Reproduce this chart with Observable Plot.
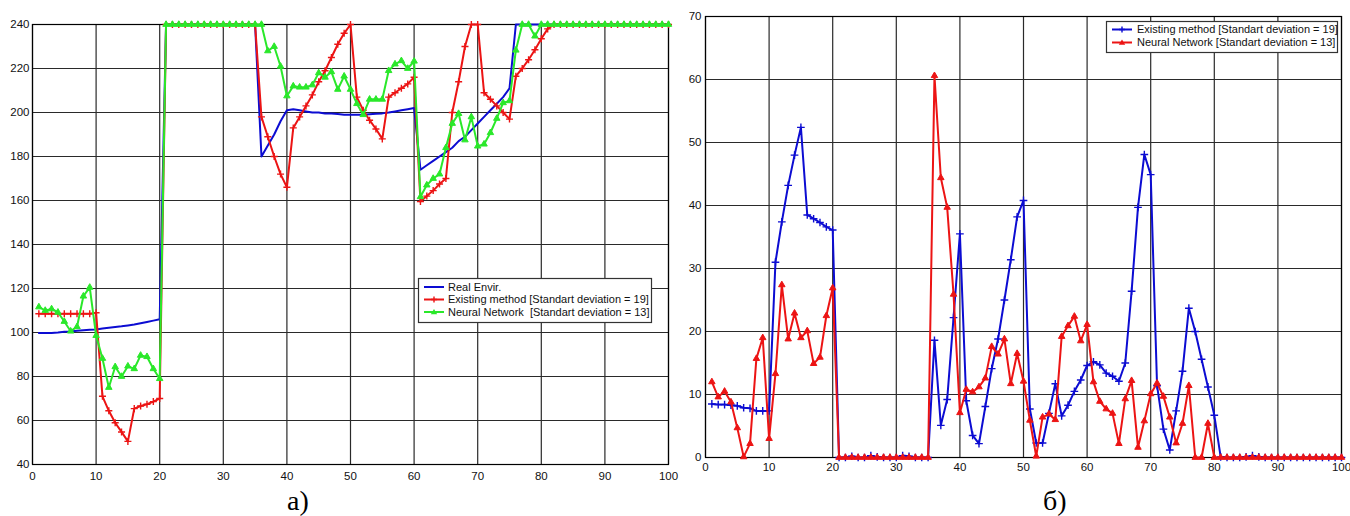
<!DOCTYPE html>
<html><head><meta charset="utf-8">
<script src="https://cdn.jsdelivr.net/npm/d3@7"></script>
<script src="https://cdn.jsdelivr.net/npm/@observablehq/plot@0.6"></script>
<style>
html,body{margin:0;padding:0;background:#fff}
#page{position:relative;width:1350px;height:516px;overflow:hidden;background:#fff}
.chart{position:absolute;top:0;width:675px}
#overlay{position:absolute;left:0;top:0}
</style></head><body>
<div id="page">
<div id="chartA" class="chart" style="left:0"></div>
<div id="chartB" class="chart" style="left:675px"></div>
<svg id="overlay" width="1350" height="516"></svg>
</div>
<script>
const stepsA = [1,2,3,4,5,6,7,8,9,10,11,12,13,14,15,16,17,18,19,20,21,22,23,24,25,26,27,28,29,30,31,32,33,34,35,36,37,38,39,40,41,42,43,44,45,46,47,48,49,50,51,52,53,54,55,56,57,58,59,60,61,62,63,64,65,66,67,68,69,70,71,72,73,74,75,76,77,78,79,80,81,82,83,84,85,86,87,88,89,90,91,92,93,94,95,96,97,98,99,100];
const realEnvirA = [99.8,99.8,99.8,100,100.3,100.5,100.8,101,101.2,101.4,
  101.8,102.2,102.5,102.8,103.2,103.6,104.2,104.8,105.4,106,
  240,240,240,240,240,240,240,240,240,240,240,240,240,240,240,
  180,185,190,196,201,201.5,201,200.5,200,200,
  199.5,199.5,199.3,199,199,199,199,199.2,199.4,199.6,
  200,200.5,201,201.5,202,
  174,176,178,180,182,184,187,189,192,195,198,201,204,207,211,
  240,240,240,240,240,240,240,240,240,240,240,240,240,240,240,240,240,240,240,240,240,240,240,240,240];
const existingA = [108.5,108.5,108.5,108.5,108.5,108.5,108.5,108.5,108.5,109,
  71,64.4,59,54.8,50.5,65.4,66.6,67.4,68.6,70,
  240,240,240,240,240,240,240,240,240,240,240,240,240,240,240,
  198,189,180,172,166,193,198,203,208,214,219,225,231,236,240,
  207,201,196.5,192.5,188,207,209,211,213,216,
  159.5,162,164.5,167.5,170,200,214,230,240,240,
  209,206,203,200,197,216.5,220,224,228.5,233.5,
  238,240,240,240,240,240,240,240,240,240,240,240,240,240,240,240,240,240,240,240];
const neuralA = [111.6,110,110.7,109.2,105,100.6,102.6,116.5,120.5,98.6,
  88.2,75,84.4,80,84.7,83.5,89.6,89,83.5,79,
  240,240,240,240,240,240,240,240,240,240,240,240,240,240,240,240,
  228,230,221,207.5,212,211.5,211.5,212.5,218,216,218.5,210.5,216.5,210.5,
  204,199,206,206,206,219,222,223.5,220,223.3,
  161.7,167,170,172,184,195,199.5,187.5,198,184.7,
  185.6,190.8,197.3,204.4,205.3,228.3,240,240,234.7,240,
  240,240,240,240,240,240,240,240,240,240,240,240,240,240,240,240,240,240,240,240];

const stepsB = [1,2,3,4,5,6,7,8,9,10,11,12,13,14,15,16,17,18,19,20,21,22,23,24,25,26,27,28,29,30,31,32,33,34,35,36,37,38,39,40,41,42,43,44,45,46,47,48,49,50,51,52,53,54,55,56,57,58,59,60,61,62,63,64,65,66,67,68,69,70,71,72,73,74,75,76,77,78,79,80,81,82,83,84,85,86,87,88,89,90,91,92,93,94,95,96,97,98,99,100];
const existingB = [8.5,8.4,8.4,8.3,8.2,7.9,7.8,7.4,7.4,7.4,
  31,37.4,43.2,48,52.4,38.5,37.9,37.3,36.6,36.1,
  0,0,0.2,0,0,0.3,0.1,0,0,0,0.3,0.2,0,0,0,
  18.6,5.1,9.2,22.2,35.5,9,3.5,2.2,8.1,14.1,18.8,25,31.4,38.2,40.8,
  7.7,2.3,2.3,7,11.7,6.6,8.3,10.5,12.3,14.6,
  15.2,14.7,13.4,12.9,12.1,15,26.4,39.7,48.1,44.9,
  11.4,4.5,1.2,7.4,13.7,23.7,20,15.6,11.2,6.7,
  0.1,0,0,0,0.1,0.3,0.1,0,0,0,0,0,0,0,0,0,0,0,0,0];
const neuralB = [12,9.6,10.5,8.8,4.7,0.1,2.2,15.7,19,3,
  13.3,27.4,18.8,22.9,19,20.1,14.9,15.9,22.5,26.9,
  0,0,0,0,0,0,0,0,0,0,0,0,0,0,0,
  60.6,44.4,39.7,25.9,7.1,10.8,10.4,11.2,12.6,17.6,16.4,18.8,11.7,16.5,12.1,
  5.9,0.2,6.4,6.9,6,19.2,20.9,22.4,18.5,21.1,
  12,8.9,7.7,7,2.2,9.3,12.2,1.6,5.8,10.1,
  11.8,9.7,6.4,2.3,5.4,11.4,0,0,5.4,0,
  0,0,0,0,0,0,0,0,0,0,0,0,0,0,0,0,0,0,0,0];

const xTicks = [0,10,20,30,40,50,60,70,80,90,100];
const yTicksA = [40,60,80,100,120,140,160,180,200,220,240];
const yTicksB = [0,10,20,30,40,50,60,70];
const legendA = ["Real Envir.", "Existing method [Standart deviation = 19]", "Neural Network\u00a0 [Standart deviation = 13]"];
const legendB = ["Existing method [Standart deviation = 19]", "Neural Network [Standart deviation = 13]"];
const captions = ["a)", "б)"];

const BLUE = "#0c0cd2", RED = "#ec1414", GREEN = "#2ae82a";
const FONT = "'Liberation Sans', Arial, sans-serif";

const tableA = stepsA.map((s, i) => ({step: s, real: realEnvirA[i], existing: existingA[i], neural: neuralA[i]}));
const tableB = stepsB.map((s, i) => ({step: s, existing: existingB[i], neural: neuralB[i]}));

const gridStyle = {stroke: "#2a2a2a", strokeOpacity: 1, strokeWidth: 1.2};
const styleObj = {fontFamily: FONT, fontSize: "11.5px", color: "#111", background: "transparent", overflow: "visible"};

const chartA = Plot.plot({
  width: 675, height: 490, marginLeft: 32, marginRight: 7, marginTop: 24, marginBottom: 26,
  style: styleObj,
  x: {domain: [0, 100], label: null},
  y: {domain: [40, 240], label: null},
  marks: [
    Plot.gridX(xTicks, gridStyle),
    Plot.gridY(yTicksA, gridStyle),
    Plot.axisX(xTicks, {tickSize: 0, tickPadding: 7, label: null}),
    Plot.axisY(yTicksA, {tickSize: 0, tickPadding: 3, label: null}),
    Plot.frame({stroke: "#000", strokeWidth: 1.2}),
    Plot.line(tableA, {x: "step", y: "real", stroke: BLUE, strokeWidth: 2}),
    Plot.line(tableA, {x: "step", y: "existing", stroke: RED, strokeWidth: 2}),
    Plot.dot(tableA, {x: "step", y: "existing", symbol: "plus", r: 2.4, stroke: RED, strokeWidth: 1.4}),
    Plot.line(tableA, {x: "step", y: "neural", stroke: GREEN, strokeWidth: 2}),
    Plot.dot(tableA, {x: "step", y: "neural", symbol: "triangle", r: 2.4, fill: GREEN, stroke: GREEN, strokeWidth: 1})
  ]
});
document.getElementById("chartA").appendChild(chartA);

const chartB = Plot.plot({
  width: 675, height: 490, marginLeft: 30, marginRight: 9, marginTop: 16, marginBottom: 33,
  style: styleObj,
  x: {domain: [0, 100], label: null},
  y: {domain: [0, 70], label: null},
  marks: [
    Plot.gridX(xTicks, gridStyle),
    Plot.gridY(yTicksB, gridStyle),
    Plot.axisX(xTicks, {tickSize: 0, tickPadding: 5, label: null}),
    Plot.axisY(yTicksB, {tickSize: 0, tickPadding: 4, label: null}),
    Plot.frame({stroke: "#000", strokeWidth: 1.2}),
    Plot.line(tableB, {x: "step", y: "existing", stroke: BLUE, strokeWidth: 2}),
    Plot.dot(tableB, {x: "step", y: "existing", symbol: "plus", r: 2.6, stroke: BLUE, strokeWidth: 1.4}),
    Plot.line(tableB, {x: "step", y: "neural", stroke: RED, strokeWidth: 2}),
    Plot.dot(tableB, {x: "step", y: "neural", symbol: "triangle", r: 2.4, fill: RED, stroke: RED, strokeWidth: 1})
  ]
});
document.getElementById("chartB").appendChild(chartB);

// Legends and captions overlay
const ov = d3.select("#overlay");
function drawLegend(box, rowY, sx1, sx2, tx, items) {
  ov.append("rect").attr("x", box[0]).attr("y", box[1]).attr("width", box[2]).attr("height", box[3])
    .attr("fill", "#fff").attr("stroke", "#333").attr("stroke-width", 1.2);
  items.forEach((it, i) => {
    const y = rowY[i];
    ov.append("line").attr("x1", sx1).attr("x2", sx2).attr("y1", y).attr("y2", y)
      .attr("stroke", it.color).attr("stroke-width", 2);
    const cx = (sx1 + sx2) / 2;
    if (it.sym === "plus") {
      ov.append("path").attr("d", `M${cx - 3},${y}H${cx + 3}M${cx},${y - 3}V${y + 3}`)
        .attr("stroke", it.color).attr("stroke-width", 1.4).attr("fill", "none");
    } else if (it.sym === "triangle") {
      ov.append("path").attr("d", `M${cx},${y - 3}L${cx + 3.2},${y + 2.2}H${cx - 3.2}Z`).attr("fill", it.color);
    }
    ov.append("text").attr("x", tx).attr("y", y).attr("dy", "0.35em")
      .attr("font-family", FONT).attr("font-size", "11px").attr("fill", "#111")
      .text(it.label);
  });
}
drawLegend([418.5, 278.5, 233, 44], [287, 299.5, 312], 424, 444, 448,
  [{label: legendA[0], color: BLUE, sym: null},
   {label: legendA[1], color: RED, sym: "plus"},
   {label: legendA[2], color: GREEN, sym: "triangle"}]);
drawLegend([1106.5, 21.5, 231, 31], [29.5, 42.5], 1112, 1132, 1137,
  [{label: legendB[0], color: BLUE, sym: "plus"},
   {label: legendB[1], color: RED, sym: "triangle"}]);

ov.append("text").attr("x", 287).attr("y", 510).attr("font-family", "'Liberation Serif', 'Times New Roman', serif")
  .attr("font-size", "28px").attr("fill", "#000").text(captions[0]);
ov.append("text").attr("x", 1043).attr("y", 510).attr("font-family", "'Liberation Serif', 'Times New Roman', serif")
  .attr("font-size", "28px").attr("fill", "#000").text(captions[1]);
</script></body></html>
